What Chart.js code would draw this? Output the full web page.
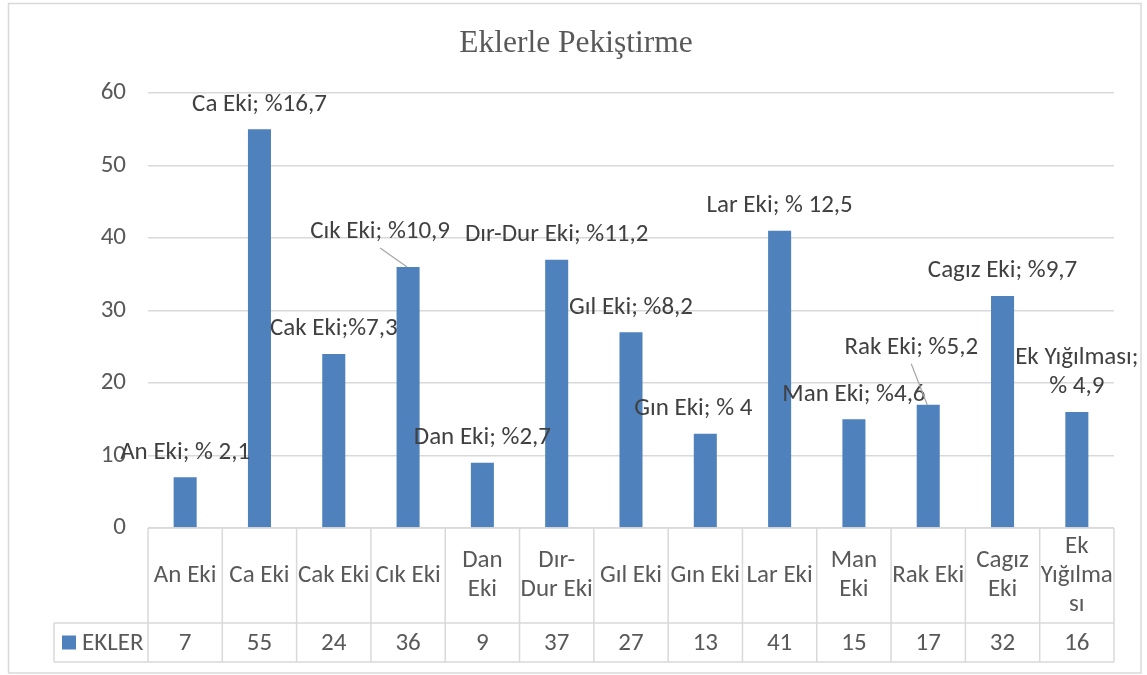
<!DOCTYPE html>
<html>
<head>
<meta charset="utf-8">
<script src="https://cdn.jsdelivr.net/npm/chart.js@4"></script>
<style>
  body { margin: 0; background: #fff; }
  canvas { display: block; }
</style>
</head>
<body>
<canvas id="chart" width="1147" height="675"></canvas>
<script>
const title = "Eklerle Pekiştirme";
const seriesName = "EKLER";
const categories = ["An Eki", "Ca Eki", "Cak Eki", "Cık Eki", "Dan Eki", "Dır-Dur Eki", "Gıl Eki", "Gın Eki", "Lar Eki", "Man Eki", "Rak Eki", "Cagız Eki", "Ek Yığılması"];
const headerLines = [["An Eki"], ["Ca Eki"], ["Cak Eki"], ["Cık Eki"], ["Dan", "Eki"], ["Dır-", "Dur Eki"], ["Gıl Eki"], ["Gın Eki"], ["Lar Eki"], ["Man", "Eki"], ["Rak Eki"], ["Cagız", "Eki"], ["Ek", "Yığılma", "sı"]];
const values = [7, 55, 24, 36, 9, 37, 27, 13, 41, 15, 17, 32, 16];
const pointLabels = [["An Eki; % 2,1"], ["Ca Eki; %16,7"], ["Cak Eki;%7,3"], ["Cık Eki; %10,9"], ["Dan Eki; %2,7"], ["Dır-Dur Eki; %11,2"], ["Gıl Eki; %8,2"], ["Gın Eki; % 4"], ["Lar Eki; % 12,5"], ["Man Eki; %4,6"], ["Rak Eki; %5,2"], ["Cagız Eki; %9,7"], ["Ek Yığılması;", "% 4,9"]];
const yTicks = [0, 10, 20, 30, 40, 50, 60];

const FONT = "Carlito, Lato, sans-serif";
const FSIZE = 25;
const GRID = "#d9d9d9";
const TEXT = "#595959";

// labels that Excel had dragged away from their bars
const labelMoves = {
  3: { dx: -28, dy: -35, leader: true },
  7: { dx: -12 },
  10: { dx: -17, dy: -57, leader: true },
};

const framePlugin = {
  id: "frame",
  beforeDraw(chart) {
    const ctx = chart.ctx;
    ctx.save();
    ctx.fillStyle = "#fff";
    ctx.fillRect(0, 0, chart.width, chart.height);
    ctx.restore();
  },
  afterDraw(chart) {
    const ctx = chart.ctx;
    const area = chart.chartArea;
    const x = chart.scales.x;
    const n = categories.length;
    const colW = (area.right - area.left) / n;
    const y0 = area.bottom, y1 = y0 + 95, y2 = y1 + 39;
    const legL = area.left - 94;

    ctx.save();
    // outer border
    ctx.strokeStyle = GRID;
    ctx.lineWidth = 1.5;
    ctx.strokeRect(8.5, 3.5, 1132.5, 669.5);

    // title
    ctx.fillStyle = TEXT;
    ctx.font = "31.5px 'Liberation Serif', 'Times New Roman', serif";
    ctx.textAlign = "center";
    ctx.textBaseline = "middle";
    ctx.fillText(title, 576, 44);

    // data table grid
    ctx.beginPath();
    ctx.moveTo(area.left, y0); ctx.lineTo(area.right, y0);
    ctx.moveTo(legL, y1); ctx.lineTo(area.right, y1);
    ctx.moveTo(legL, y2); ctx.lineTo(area.right, y2);
    for (let i = 0; i <= n; i++) {
      const cx = area.left + i * colW;
      ctx.moveTo(cx, y0); ctx.lineTo(cx, y2);
    }
    ctx.moveTo(legL, y1); ctx.lineTo(legL, y2);
    ctx.stroke();

    // table text
    ctx.font = FSIZE + "px " + FONT;
    ctx.fillStyle = TEXT;
    const lh = 29;
    headerLines.forEach((lines, i) => {
      const cx = x.getPixelForValue(i);
      const top = (y0 + y1) / 2 - (lines.length - 1) * lh / 2;
      lines.forEach((t, k) => ctx.fillText(t, cx, top + k * lh));
      ctx.fillText(String(values[i]), cx, (y1 + y2) / 2 + 1);
    });

    // legend key
    ctx.fillStyle = "#4f81bd";
    ctx.fillRect(legL + 8, (y1 + y2) / 2 - 7, 14, 14);
    ctx.fillStyle = TEXT;
    ctx.textAlign = "left";
    ctx.fillText(seriesName, legL + 28, (y1 + y2) / 2 + 1);

    // data labels
    const meta = chart.getDatasetMeta(0);
    ctx.fillStyle = "#404040";
    ctx.textAlign = "center";
    meta.data.forEach((bar, i) => {
      const mv = labelMoves[i] || {};
      const lx = bar.x + (mv.dx || 0);
      const ly = bar.y + (mv.dy || -25);
      const lines = pointLabels[i];
      lines.forEach((t, k) => ctx.fillText(t, lx, ly - (lines.length - 1 - k) * 29));
      if (mv.leader) {
        ctx.strokeStyle = "#a6a6a6";
        ctx.lineWidth = 1.2;
        ctx.beginPath();
        ctx.moveTo(lx, ly + 16);
        ctx.lineTo(bar.x - 1, bar.y);
        ctx.stroke();
      }
    });
    ctx.restore();
  },
};

new Chart(document.getElementById("chart"), {
  type: "bar",
  data: {
    labels: categories,
    datasets: [{
      label: seriesName,
      data: values,
      backgroundColor: "#4f81bd",
      barPercentage: 0.31,
      categoryPercentage: 1,
    }],
  },
  options: {
    responsive: false,
    animation: false,
    layout: { padding: { top: 93, bottom: 147, left: 0, right: 33 } },
    plugins: {
      legend: { display: false },
      tooltip: { enabled: false },
    },
    scales: {
      x: { display: false },
      y: {
        min: yTicks[0],
        max: yTicks[yTicks.length - 1],
        afterBuildTicks(s) { s.ticks = yTicks.map((v) => ({ value: v })); },
        afterFit(s) { s.width = 148; },
        ticks: { color: TEXT, font: { family: FONT, size: FSIZE }, padding: 22 },
        grid: { color: GRID, lineWidth: 1.5, drawTicks: false },
        border: { display: false },
      },
    },
  },
  plugins: [framePlugin],
});
</script>
</body>
</html>
